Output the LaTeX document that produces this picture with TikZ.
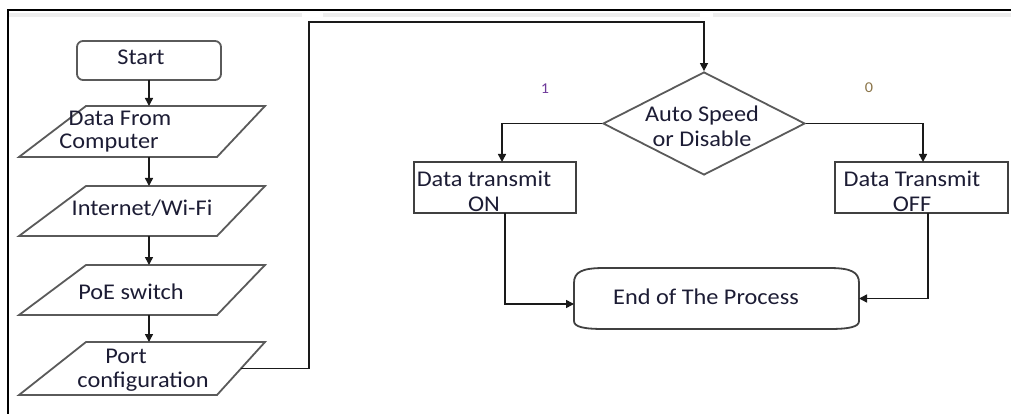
\documentclass[tikz,border=0pt]{standalone}
\usepackage{fontspec}
\setmainfont{Carlito}[FakeStretch=1.08]
\usetikzlibrary{arrows.meta,shapes.geometric,calc}
\definecolor{txtc}{HTML}{1C1C34}
\definecolor{shpc}{HTML}{5A5A5A}
\definecolor{boxc}{HTML}{404040}
\definecolor{linec}{HTML}{1A1A1A}
\definecolor{onec}{HTML}{6F3A9A}
\definecolor{zeroc}{HTML}{8A7448}
\definecolor{bandc}{HTML}{EEEEEE}
\tikzset{
  holder/.style={draw=none,inner sep=0pt,outer sep=0pt,rectangle},
  shp/.style={draw=shpc,line width=1.8pt,line join=miter},
  boxshp/.style={draw=boxc,line width=1.8pt,rectangle,inner sep=0pt,outer sep=0pt},
  txt/.style={text=txtc,inner sep=0pt,font=\fontsize{22.5}{25}\selectfont,align=center},
  smalltxt/.style={inner sep=0pt,font=\fontsize{15}{17}\selectfont},
  conn/.style={draw=linec,line width=1.5pt},
  arr/.style={conn,-{Triangle[length=8pt,width=8pt]}},
}
\begin{document}
\begin{tikzpicture}[x=1pt,y=-1pt]
\useasboundingbox (0,0) rectangle (1011,414);
% frame
\fill[bandc] (9,13) rectangle (302,17);
\fill[bandc] (323,13) rectangle (700,17);
\fill[bandc] (713,13) rectangle (1011,17);
\draw[line width=2pt,black] (8,414) -- (8,10) -- (1011,10);

% left column
\node[boxshp,draw=shpc,rounded corners=6pt,minimum width=144pt,minimum height=39pt] (start) at (149,60.5) {};
\node[txt] (tstart) at (141,57) {Start};

\node[holder,minimum width=246pt,minimum height=51pt] (d1) at (142,131.5) {};
\node[holder,minimum width=246pt,minimum height=50pt] (d2) at (142,211) {};
\node[holder,minimum width=246pt,minimum height=50pt] (d3) at (142,290) {};
\node[holder,minimum width=246pt,minimum height=53pt] (d4) at (142,368.5) {};
\foreach \p in {d1,d2,d3,d4}{
  \draw[shp] (\p.south west) -- ([xshift=67pt]\p.north west) -- (\p.north east) -- ([xshift=-48pt]\p.south east) -- cycle;
}
\node[txt] (t1a) at (120,118) {Data From};
\node[txt] (t1b) at (109,143) {Computer};
\node[txt] (t2) at (142,208) {Internet/Wi-Fi};
\node[txt] (t3) at (131,292) {PoE switch};
\node[txt] (t4a) at (126,356) {Port};
\node[txt] (t4b) at (143,382) {configuration};

\coordinate (col) at (149,0);
\draw[arr] (start.south) -- (col |- d1.north);
\draw[arr] (col |- d1.south) -- (col |- d2.north);
\draw[arr] (col |- d2.south) -- (col |- d3.north);
\draw[arr] (col |- d3.south) -- (col |- d4.north);

% diamond
\node[diamond,draw=shpc,line width=1.8pt,inner sep=0pt,minimum width=202pt,minimum height=103pt] (dia) at (704,123.5) {};
\node[txt] (tdia) at (702,126) {Auto Speed\\or Disable};

% connector from port configuration
\coordinate (pout) at ([xshift=-24pt]d4.east);
\coordinate (bend) at (309,22);
\draw[arr] (pout) -- (pout -| bend) -- (bend) -- (bend -| dia.north) -- (dia.north);

% branch labels
\node[smalltxt,text=onec] (lone) at (545,89) {1};
\node[smalltxt,text=zeroc] (lzero) at (869,88) {0};

% ON / OFF boxes
\node[boxshp,minimum width=162pt,minimum height=51pt] (on) at (495,187.5) {};
\node[txt] (ton) at (484,191) {Data transmit\\ON};
\node[boxshp,minimum width=173pt,minimum height=51pt] (off) at (921.5,187.5) {};
\node[txt] (toff) at (912,191) {Data Transmit\\OFF};

\draw[arr] (dia.west) -| ([xshift=7pt]on.north);
\draw[arr] (dia.east) -| ([xshift=1.5pt]off.north);

% end
\node[holder,minimum width=285pt,minimum height=61pt] (end) at (716.5,298.5) {};
\draw[shp,draw=boxc] ($(end.north west)+(30,0)$) -- ($(end.north east)+(-30,0)$)
  .. controls ($(end.north east)+(-8,0)$) and ($(end.north east)+(0,4)$) .. ($(end.north east)+(0,15)$)
  -- ($(end.south east)+(0,-8)$)
  .. controls ($(end.south east)+(0,-2)$) and ($(end.south east)+(-10,0)$) .. ($(end.south east)+(-30,0)$)
  -- ($(end.south west)+(30,0)$)
  .. controls ($(end.south west)+(10,0)$) and ($(end.south west)+(0,-2)$) .. ($(end.south west)+(0,-8)$)
  -- ($(end.north west)+(0,15)$)
  .. controls ($(end.north west)+(0,4)$) and ($(end.north west)+(8,0)$) .. ($(end.north west)+(30,0)$)
  -- cycle;
\node[txt] (tend) at (706,297) {End of The Process};

\draw[arr] ([xshift=10pt]on.south) |- ([yshift=-5.5pt]end.west);
\draw[arr] ([xshift=6.5pt]off.south) |- (end.east);
\end{tikzpicture}
\end{document}
